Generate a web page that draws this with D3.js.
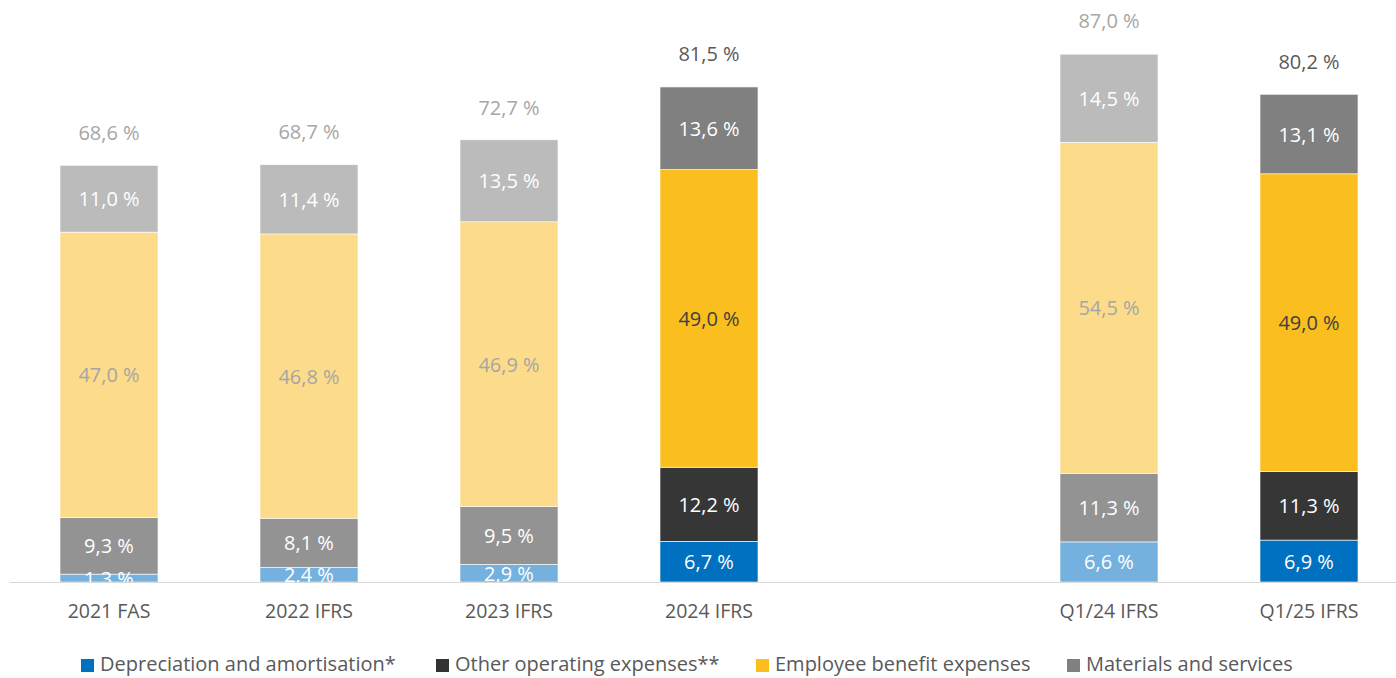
<!DOCTYPE html>
<html>
<head>
<meta charset="utf-8">
<script src="https://cdn.jsdelivr.net/npm/d3@7"></script>
<style>
  html, body { margin: 0; padding: 0; background: #fff; }
  svg { display: block; font-family: "Open Sans", "Noto Sans", sans-serif; }
</style>
</head>
<body>
<svg id="chart" width="1396" height="678"></svg>
<script>
// Cost structure as % of net sales
const categories = ["2021 FAS", "2022 IFRS", "2023 IFRS", "2024 IFRS", "", "Q1/24 IFRS", "Q1/25 IFRS"];
const seriesNames = ["Depreciation and amortisation*", "Other operating expenses**", "Employee benefit expenses", "Materials and services"];
const depreciation = [1.3, 2.4, 2.9, 6.7, null, 6.6, 6.9];
const otherOperating = [9.3, 8.1, 9.5, 12.2, null, 11.3, 11.3];
const employeeBenefit = [47.0, 46.8, 46.9, 49.0, null, 54.5, 49.0];
const materials = [11.0, 11.4, 13.5, 13.6, null, 14.5, 13.1];
const totals = [68.6, 68.7, 72.7, 81.5, null, 87.0, 80.2];
const emphasized = ["2024 IFRS", "Q1/25 IFRS"];

const seriesValues = [depreciation, otherOperating, employeeBenefit, materials];

// full-strength and muted palettes per series
const strongFill = ["#0070C0", "#363636", "#FABE1E", "#808080"];
const mutedFill = ["#75B1DE", "#939393", "#FCDC8A", "#BBBBBB"];
const legendFill = ["#0070C0", "#333333", "#FABE1E", "#808080"];
const strongLabel = ["#FFFFFF", "#FFFFFF", "#404040", "#FFFFFF"];
const mutedLabel = ["#FFFFFF", "#FFFFFF", "#A6A6A6", "#FFFFFF"];

const fmt = v => d3.format(".1f")(v).replace(".", ",") + " %";

const svg = d3.select("#chart");
const plot = { left: 9, right: 1409, top: 0, bottom: 582 };

const x = d3.scaleBand().domain(categories).range([plot.left, plot.right]).paddingInner(0.51).paddingOuter(0.255);
const y = d3.scaleLinear().domain([0, 100]).range([plot.bottom, plot.bottom - 607.4]);

const rows = categories.map((c, i) => {
  const r = { cat: c };
  seriesNames.forEach((s, k) => r[s] = seriesValues[k][i] || 0);
  return r;
});
const stacked = d3.stack().keys(seriesNames)(rows);

svg.append("clipPath").attr("id", "plotClip")
  .append("rect").attr("x", 0).attr("y", 0).attr("width", 1396).attr("height", plot.bottom);

// bars
const gBars = svg.append("g");
stacked.forEach((layer, k) => {
  gBars.selectAll(null).data(layer.filter(d => d.data.cat !== ""))
    .join("rect")
    .attr("x", d => x(d.data.cat))
    .attr("width", x.bandwidth())
    .attr("y", d => y(d[1]))
    .attr("height", d => y(d[0]) - y(d[1]))
    .attr("fill", d => emphasized.includes(d.data.cat) ? strongFill[k] : mutedFill[k])
    .attr("stroke", "#FFFFFF")
    .attr("stroke-width", 0.6);
});

// axis baseline and category labels
const xAxis = d3.axisBottom(x).tickSize(0).tickPadding(0).tickFormat(d => d);
const gAxis = svg.append("g").attr("transform", `translate(0,${plot.bottom})`).call(xAxis);
gAxis.select(".domain").attr("stroke", "#D9D9D9").attr("stroke-width", 1.2);
gAxis.selectAll(".tick text")
  .attr("dy", null).attr("y", 31).attr("dominant-baseline", "middle")
  .attr("font-size", 19.5).attr("fill", "#595959")
  .attr("font-family", "'Open Sans', sans-serif");

// segment labels (clipped by plot area)
const gLabels = svg.append("g").attr("clip-path", "url(#plotClip)");
stacked.forEach((layer, k) => {
  gLabels.selectAll(null).data(layer.filter(d => d.data.cat !== ""))
    .join("text")
    .attr("x", d => x(d.data.cat) + x.bandwidth() / 2)
    .attr("y", d => (y(d[0]) + y(d[1])) / 2)
    .attr("text-anchor", "middle")
    .attr("dominant-baseline", "central")
    .attr("font-size", 20)
    .attr("fill", d => emphasized.includes(d.data.cat) ? strongLabel[k] : mutedLabel[k])
    .text(d => fmt(d.data[seriesNames[k]]));
});

// totals above bars
svg.append("g").selectAll("text")
  .data(categories.map((c, i) => ({ cat: c, v: totals[i] })).filter(d => d.cat !== ""))
  .join("text")
  .attr("x", d => x(d.cat) + x.bandwidth() / 2)
  .attr("y", d => y(d.v) - 33)
  .attr("text-anchor", "middle")
  .attr("dominant-baseline", "central")
  .attr("font-size", 20)
  .attr("fill", d => emphasized.includes(d.cat) ? "#595959" : "#A6A6A6")
  .text(d => fmt(d.v));

// legend
const legendX = [81, 436, 756, 1067];
const gLegend = svg.append("g").attr("transform", "translate(0,663)");
seriesNames.forEach((s, k) => {
  const item = gLegend.append("g").attr("transform", `translate(${legendX[k]},0)`);
  item.append("rect").attr("x", 0).attr("y", -4).attr("width", 13).attr("height", 13).attr("fill", legendFill[k]);
  item.append("text").attr("x", 19).attr("y", 0).attr("dominant-baseline", "central")
    .attr("font-size", 20).attr("fill", "#595959").text(s);
});
</script>
</body>
</html>
